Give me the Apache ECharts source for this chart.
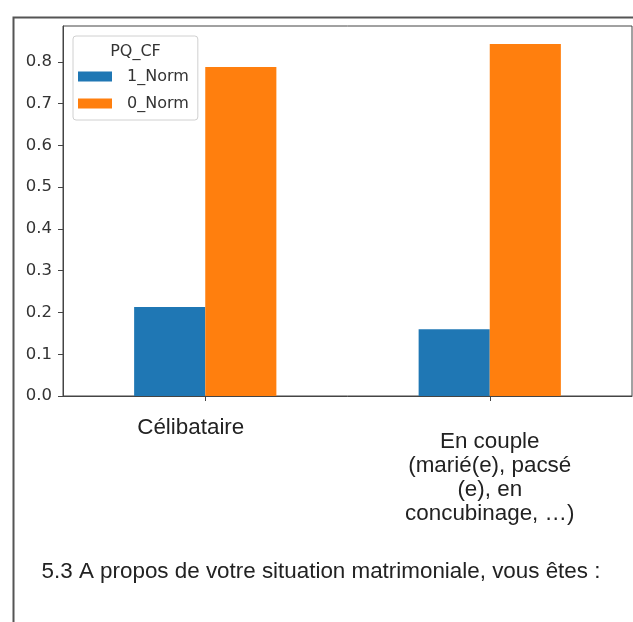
<!DOCTYPE html>
<html>
<head>
<meta charset="utf-8">
<script src="https://cdn.jsdelivr.net/npm/echarts@6/dist/echarts.min.js"></script>
<style>
html,body{margin:0;padding:0;background:#fff;}
#chart{width:633px;height:622px;}
</style>
</head>
<body>
<div id="chart"></div>
<script>
var categories = ['Célibataire', 'En couple\n(marié(e), pacsé\n(e), en\nconcubinage, …)'];
var seriesNames = ['1_Norm', '0_Norm'];
var norm1 = [0.213, 0.160];
var norm0 = [0.788, 0.843];
var yTicks = [0, 0.1, 0.2, 0.3, 0.4, 0.5, 0.6, 0.7, 0.8];
var legendTitle = 'PQ_CF';
var chartTitle = '5.3 A propos de votre situation matrimoniale, vous êtes :';

// per-label layout tweaks (kept separate from the data)
var labelPads = [[0, 29, 0, 0], [14, 0, 0, 0]];

var chart = echarts.init(document.getElementById('chart'), null, {renderer: 'canvas'});
var axisColor = '#444';
var option = {
  animation: false,
  backgroundColor: '#fff',
  grid: {left: 63, right: 1, top: 26, bottom: 226, show: true, borderColor: axisColor, borderWidth: 1, containLabel: false},
  xAxis: {
    type: 'category',
    data: categories.map(function (c, i) { return {value: c, textStyle: {padding: labelPads[i]}}; }),
    boundaryGap: true,
    axisLine: {lineStyle: {color: axisColor, width: 1}},
    axisTick: {show: true, alignWithLabel: true, length: 5, lineStyle: {color: axisColor}},
    axisLabel: {margin: 20, fontFamily: 'Liberation Sans', fontSize: 22.4, lineHeight: 24, color: '#222', interval: 0}
  },
  yAxis: {
    type: 'value',
    min: 0,
    max: 0.886,
    interval: 0.1,
    splitLine: {show: false},
    axisLine: {show: true, lineStyle: {color: axisColor, width: 1}},
    axisTick: {show: true, length: 5, lineStyle: {color: axisColor}, customValues: yTicks},
    axisLabel: {customValues: yTicks, margin: 11, fontFamily: 'DejaVu Sans', fontSize: 16.5, color: '#333',
      formatter: function (v) { return v.toFixed(1); }}
  },
  legend: {
    data: seriesNames,
    orient: 'vertical',
    left: 73,
    top: 36,
    padding: [32, 9, 8, 5],
    itemWidth: 34,
    itemHeight: 10,
    itemGap: 10,
    icon: 'rect',
    backgroundColor: 'rgba(255,255,255,0.85)',
    borderColor: '#d0d0d0',
    borderWidth: 1,
    borderRadius: 3,
    textStyle: {fontFamily: 'DejaVu Sans', fontSize: 16, lineHeight: 17, color: '#333', padding: [0, 0, 0, 10]}
  },
  graphic: [
    {type: 'rect', left: 11, top: 15, shape: {width: 700, height: 700}, style: {fill: 'none', stroke: '#555', lineWidth: 2}, silent: true},
    {type: 'text', x: 135.5, y: 52, z: 100, style: {text: legendTitle, font: '16px "DejaVu Sans"', fill: '#333', textAlign: 'center', textVerticalAlign: 'middle'}},
    {type: 'text', x: 321, y: 572, style: {text: chartTitle, font: '22.4px "Liberation Sans"', fill: '#222', textAlign: 'center', textVerticalAlign: 'middle'}}
  ],
  series: [
    {name: seriesNames[0], type: 'bar', data: norm1, barGap: '0%', barCategoryGap: '50%', itemStyle: {color: '#1f77b4'}},
    {name: seriesNames[1], type: 'bar', data: norm0, barGap: '0%', barCategoryGap: '50%', itemStyle: {color: '#ff7f0e'}}
  ]
};
chart.setOption(option);
</script>
</body>
</html>
